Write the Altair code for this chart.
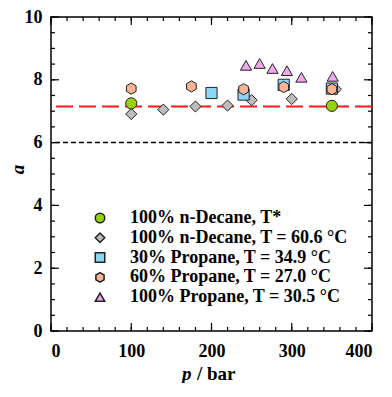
import altair as alt
import pandas as pd

# ---- data ----
series_names = [
    "100% n-Decane, T*",
    "100% n-Decane, T = 60.6 °C",
    "30% Propane, T = 34.9 °C",
    "60% Propane, T = 27.0 °C",
    "100% Propane, T = 30.5 °C",
]
fills = ["#95d20f", "#bdbdbd", "#8ad6f5", "#f8b497", "#f1a8ee"]
shapes = ["circle", "diamond", "square",
          "M0,-1L0.866,-0.5L0.866,0.5L0,1L-0.866,0.5L-0.866,-0.5Z",
          "triangle-up"]

decane_tstar_p = [100, 350]
decane_tstar_a = [7.25, 7.17]
decane_606_p = [100, 140, 180, 220, 250, 300, 355]
decane_606_a = [6.91, 7.05, 7.15, 7.18, 7.35, 7.39, 7.70]
prop30_p = [200, 240, 290, 350]
prop30_a = [7.58, 7.53, 7.84, 7.72]
prop60_p = [100, 175, 240, 290, 350]
prop60_a = [7.72, 7.79, 7.70, 7.77, 7.70]
prop100_p = [243, 260, 276, 294, 312, 351]
prop100_a = [8.46, 8.52, 8.36, 8.29, 8.08, 8.11]

red_line_a = [7.15]
black_line_a = [6.0]

x_major = [0, 100, 200, 300, 400]
x_minor = list(range(0, 401, 20))
y_major = [0, 2, 4, 6, 8, 10]
y_minor = [i * 0.5 for i in range(0, 21)]

x_title_parts = ["p", "/ bar"]

# draw order: decane 60.6, decane T*, 30% propane, 60% propane, 100% propane
order = [1, 0, 2, 3, 4]
all_p = [decane_tstar_p, decane_606_p, prop30_p, prop60_p, prop100_p]
all_a = [decane_tstar_a, decane_606_a, prop30_a, prop60_a, prop100_a]
rows = []
for i in order:
    for p, a in zip(all_p[i], all_a[i]):
        rows.append({"p": p, "a": a, "series": series_names[i]})
df = pd.DataFrame(rows)

FONT = "Liberation Serif"
W, H = 321, 314
XD = [0, 400]
YD = [0, 10]


def xs():
    return alt.Scale(domain=XD, nice=False, zero=False)


def ys():
    return alt.Scale(domain=YD, nice=False, zero=False)


# identical axis definitions on every layer so they merge cleanly
def ax_x():
    return alt.Axis(values=x_major, ticks=False, domain=False, grid=False,
                    labelPadding=11, title=None)


def ax_y():
    return alt.Axis(values=y_major, ticks=False, domain=False, grid=False,
                    labelPadding=9, title="a", titleFontStyle="italic",
                    titleX=-34, titleY=152, titleAlign="center",
                    titleBaseline="middle", titleAngle=270)


points = alt.Chart(df).mark_point(filled=True, stroke="#222222", size=125,
                                  strokeWidth=1, opacity=1).encode(
    x=alt.X("p:Q", scale=xs(), axis=ax_x()),
    y=alt.Y("a:Q", scale=ys(), axis=ax_y()),
    fill=alt.Fill("series:N", scale=alt.Scale(domain=series_names, range=fills),
                  legend=alt.Legend(title=None, orient="none", legendX=40,
                                    legendY=192)),
    shape=alt.Shape("series:N", scale=alt.Scale(domain=series_names, range=shapes),
                    legend=alt.Legend(title=None, orient="none", legendX=40,
                                      legendY=192)),
)

red = alt.Chart(pd.DataFrame({"a": red_line_a})).mark_rule(
    color="#ff1a1a", strokeWidth=2, strokeDash=[17, 6]
).encode(y=alt.Y("a:Q", scale=ys(), axis=ax_y()))

black = alt.Chart(pd.DataFrame({"a": black_line_a})).mark_rule(
    color="black", strokeWidth=1.5, strokeDash=[5, 3]
).encode(y=alt.Y("a:Q", scale=ys(), axis=ax_y()))


def x_ticks(vals, edge, length, sign):
    d = pd.DataFrame({"v": vals, "e": [edge] * len(vals)})
    return alt.Chart(d).mark_tick(
        orient="vertical", size=length, thickness=1.2, color="black",
        opacity=1, yOffset=sign * length / 2
    ).encode(x=alt.X("v:Q", scale=xs(), axis=ax_x()),
             y=alt.Y("e:Q", scale=ys(), axis=ax_y()))


def y_ticks(vals, edge, length, sign):
    d = pd.DataFrame({"v": vals, "e": [edge] * len(vals)})
    return alt.Chart(d).mark_tick(
        orient="horizontal", size=length, thickness=1.2, color="black",
        opacity=1, xOffset=sign * length / 2
    ).encode(x=alt.X("e:Q", scale=xs(), axis=ax_x()),
             y=alt.Y("v:Q", scale=ys(), axis=ax_y()))


ticks = [
    x_ticks(x_major, YD[0], 8, -1), x_ticks(x_minor, YD[0], 4, -1),
    x_ticks(x_major, YD[1], 8, 1), x_ticks(x_minor, YD[1], 4, 1),
    y_ticks(y_major, XD[0], 8, 1), y_ticks(y_minor, XD[0], 4, 1),
    y_ticks(y_major, XD[1], 8, -1), y_ticks(y_minor, XD[1], 4, -1),
]

title_p = alt.Chart(pd.DataFrame({"t": [x_title_parts[0]]})).mark_text(
    font=FONT, fontSize=19, fontWeight="bold", fontStyle="italic",
    align="left", baseline="alphabetic", color="black"
).encode(x=alt.value(131), y=alt.value(H + 49), text="t:N")

title_bar = alt.Chart(pd.DataFrame({"t": [x_title_parts[1]]})).mark_text(
    font=FONT, fontSize=19, fontWeight="bold",
    align="left", baseline="alphabetic", color="black"
).encode(x=alt.value(146), y=alt.value(H + 49), text="t:N")

chart = alt.layer(red, black, points, *ticks, title_p, title_bar).properties(
    width=W, height=H,
    autosize=alt.AutoSizeParams(type="none"),
    padding={"left": 43, "top": 9, "right": 12, "bottom": 52},
).configure_view(
    stroke="black", strokeWidth=1.5
).configure_axis(
    labelFont=FONT, labelFontWeight="bold", labelFontSize=18, labelColor="black",
    titleFont=FONT, titleFontWeight="bold", titleFontSize=19, titleColor="black",
).configure_legend(
    labelFont=FONT, labelFontWeight="bold", labelFontSize=18, labelColor="black",
    symbolSize=90, labelOffset=21, rowPadding=1.8, labelLimit=400,
)

chart.save("out.html", embed_options={"renderer": "svg", "actions": False})
